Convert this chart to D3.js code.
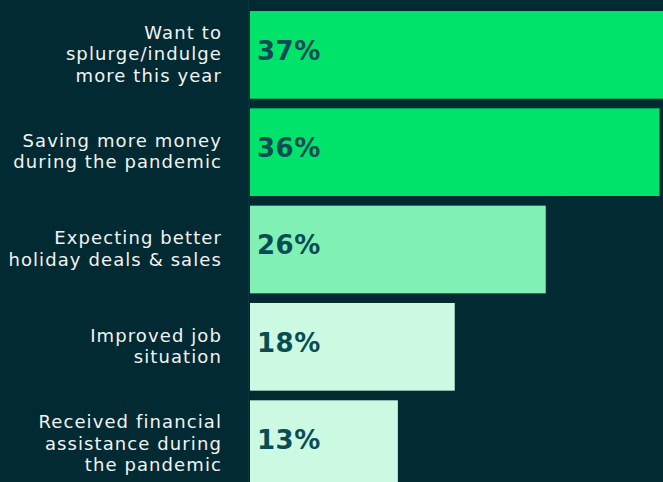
<!DOCTYPE html>
<html>
<head>
<meta charset="utf-8">
<script src="https://cdn.jsdelivr.net/npm/d3@7"></script>
<style>
  html, body { margin: 0; padding: 0; background: #012a32; }
  svg { display: block; }
</style>
</head>
<body>
<svg id="chart"></svg>
<script>
// reasons for holiday spending, share of respondents
const labels = [
  ["Want to", "splurge/indulge", "more this year"],
  ["Saving more money", "during the pandemic"],
  ["Expecting better", "holiday deals & sales"],
  ["Improved job", "situation"],
  ["Received financial", "assistance during", "the pandemic"]
]
const values = [37, 36, 26, 18, 13]
const barColors = ["#00e36b", "#00e36b", "#80f0b5", "#ccf9e1", "#ccf9e1"]

const width = 663, height = 482

const svg = d3.select('#chart')
  .attr('width', width)
  .attr('height', height)

svg.append('rect')
  .attr('width', width)
  .attr('height', height)
  .attr('fill', '#012a32')

const x = d3.scaleLinear()
  .domain([0, 40])
  .range([250, 705])

const y = d3.scaleBand()
  .domain(d3.range(values.length))
  .range([11, 488])
  .paddingInner(0.099)
  .paddingOuter(0)

// faint baseline
svg.append('line')
  .attr('x1', x(0) - 1.5).attr('x2', x(0) - 1.5)
  .attr('y1', 0).attr('y2', height)
  .attr('stroke', '#0a343c')
  .attr('stroke-width', 1)

svg.selectAll('rect.bar')
  .data(values)
  .join('rect')
  .attr('class', 'bar')
  .attr('x', x(0))
  .attr('y', (d, i) => y(i))
  .attr('width', d => x(d) - x(0))
  .attr('height', y.bandwidth())
  .attr('fill', (d, i) => barColors[i])

// value labels inside bars
svg.selectAll('text.val')
  .data(values)
  .join('text')
  .attr('class', 'val')
  .attr('x', x(0) + 7)
  .attr('y', (d, i) => y(i) + y.bandwidth() / 2 - 4.5)
  .attr('dy', '0.36em')
  .attr('fill', '#0a4c53')
  .style('font-family', 'DejaVu Sans')
  .style('font-weight', 'bold')
  .style('font-size', '26px')
  .style('letter-spacing', '0.5px')
  .text(d => d + '%')

// category labels, right aligned
const lineH = 21.3
const g = svg.selectAll('text.cat')
  .data(labels)
  .join('text')
  .attr('class', 'cat')
  .attr('text-anchor', 'end')
  .attr('fill', '#f2f4f4')
  .style('font-family', 'DejaVu Sans')
  .style('font-size', '18px')
  .style('letter-spacing', '1.1px')

g.selectAll('tspan')
  .data((d, i) => d.map((t, j) => ({t, j, n: d.length, i})))
  .join('tspan')
  .attr('x', 222)
  .attr('y', d => y(d.i) + y.bandwidth() / 2 + (d.j - (d.n - 1) / 2) * lineH)
  .attr('dy', '0.3em')
  .text(d => d.t)
</script>
</body>
</html>
